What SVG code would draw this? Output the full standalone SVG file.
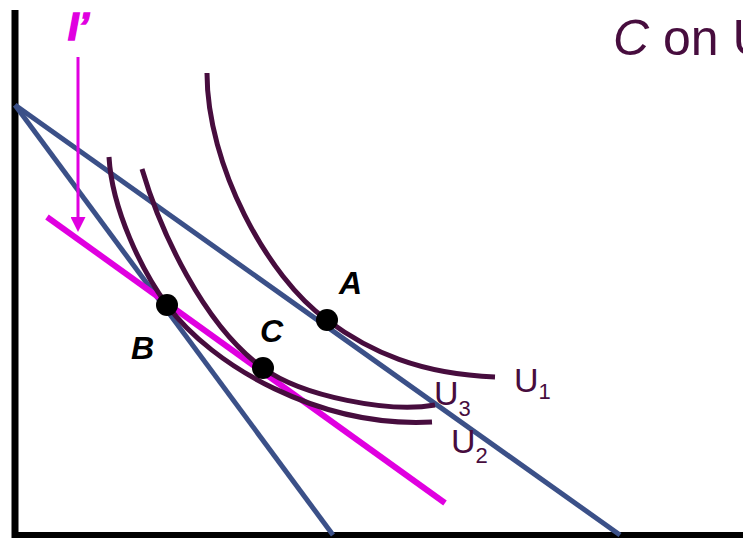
<svg xmlns="http://www.w3.org/2000/svg" width="743" height="538" viewBox="0 0 743 538">
<defs>
<style>
.axis{stroke:#000;fill:none}
.budget{stroke:#3b5088;stroke-width:5;fill:none}
.comp{stroke:#e000e0;stroke-width:6;fill:none}
.ic{stroke:#470d3e;stroke-width:5;fill:none}
.dot{fill:#000}
.pt{font-family:"Liberation Sans",Arial,sans-serif;font-weight:bold;font-style:italic;font-size:32px;fill:#000}
.ul{font-family:"Liberation Sans",Arial,sans-serif;font-size:34px;fill:#470d3e}
.sub{font-size:22px}
.title{font-family:"Liberation Sans",Arial,sans-serif;font-size:50px;fill:#470d3e}
</style>
<marker id="ah" markerWidth="5" markerHeight="5" refX="0" refY="2.5" orient="auto" markerUnits="strokeWidth">
<path d="M0,0 L5,2.5 L0,5 Z" fill="#e000e0"/>
</marker>
</defs>
<rect width="743" height="538" fill="#fff"/>
<g id="axes">
<line class="axis" x1="15" y1="10" x2="15" y2="538" stroke-width="7"/>
<line class="axis" x1="12" y1="535" x2="743" y2="535" stroke-width="6"/>
</g>
<g id="title">
<text class="title" x="613" y="55"><tspan font-style="italic">C</tspan> on U</text>
</g>
<g id="connectors">
<line class="budget" x1="15" y1="105" x2="620" y2="535"/>
<line class="budget" x1="15" y1="105" x2="333" y2="535"/>
<line class="comp" x1="47" y1="217" x2="445" y2="503"/>
<line x1="78" y1="57" x2="78" y2="217" stroke="#e000e0" stroke-width="3" marker-end="url(#ah)"/>
</g>
<g id="U1">
<path class="ic" d="M207,73 C207,165 267,277 327,320 C370,352 420,374 495,377"/>
<text class="ul" x="514" y="392">U<tspan class="sub" dy="7">1</tspan></text>
</g>
<g id="U3">
<path class="ic" d="M142,169 C160,230 203,325 263,368 C303,397 390,413 435,405"/>
<text class="ul" x="434" y="405">U<tspan class="sub" dy="11">3</tspan></text>
</g>
<g id="U2">
<path class="ic" d="M109,157 C112,210 142,271 167,305 C212,366 320,428 432,422"/>
<text class="ul" x="451" y="453">U<tspan class="sub" dy="10">2</tspan></text>
</g>
<g id="A">
<circle class="dot" cx="327" cy="320" r="11"/>
<text class="pt" x="339" y="294">A</text>
</g>
<g id="B">
<circle class="dot" cx="167" cy="305" r="11"/>
<text class="pt" x="131" y="359">B</text>
</g>
<g id="C">
<circle class="dot" cx="263" cy="368" r="11"/>
<text class="pt" x="260" y="342">C</text>
</g>
<g id="Iprime">
<text x="68" y="40" font-family="Liberation Sans,Arial,sans-serif" font-weight="bold" font-style="italic" font-size="38" fill="#e000e0" stroke="#e000e0" stroke-width="1.6">I’</text>
</g>
</svg>
